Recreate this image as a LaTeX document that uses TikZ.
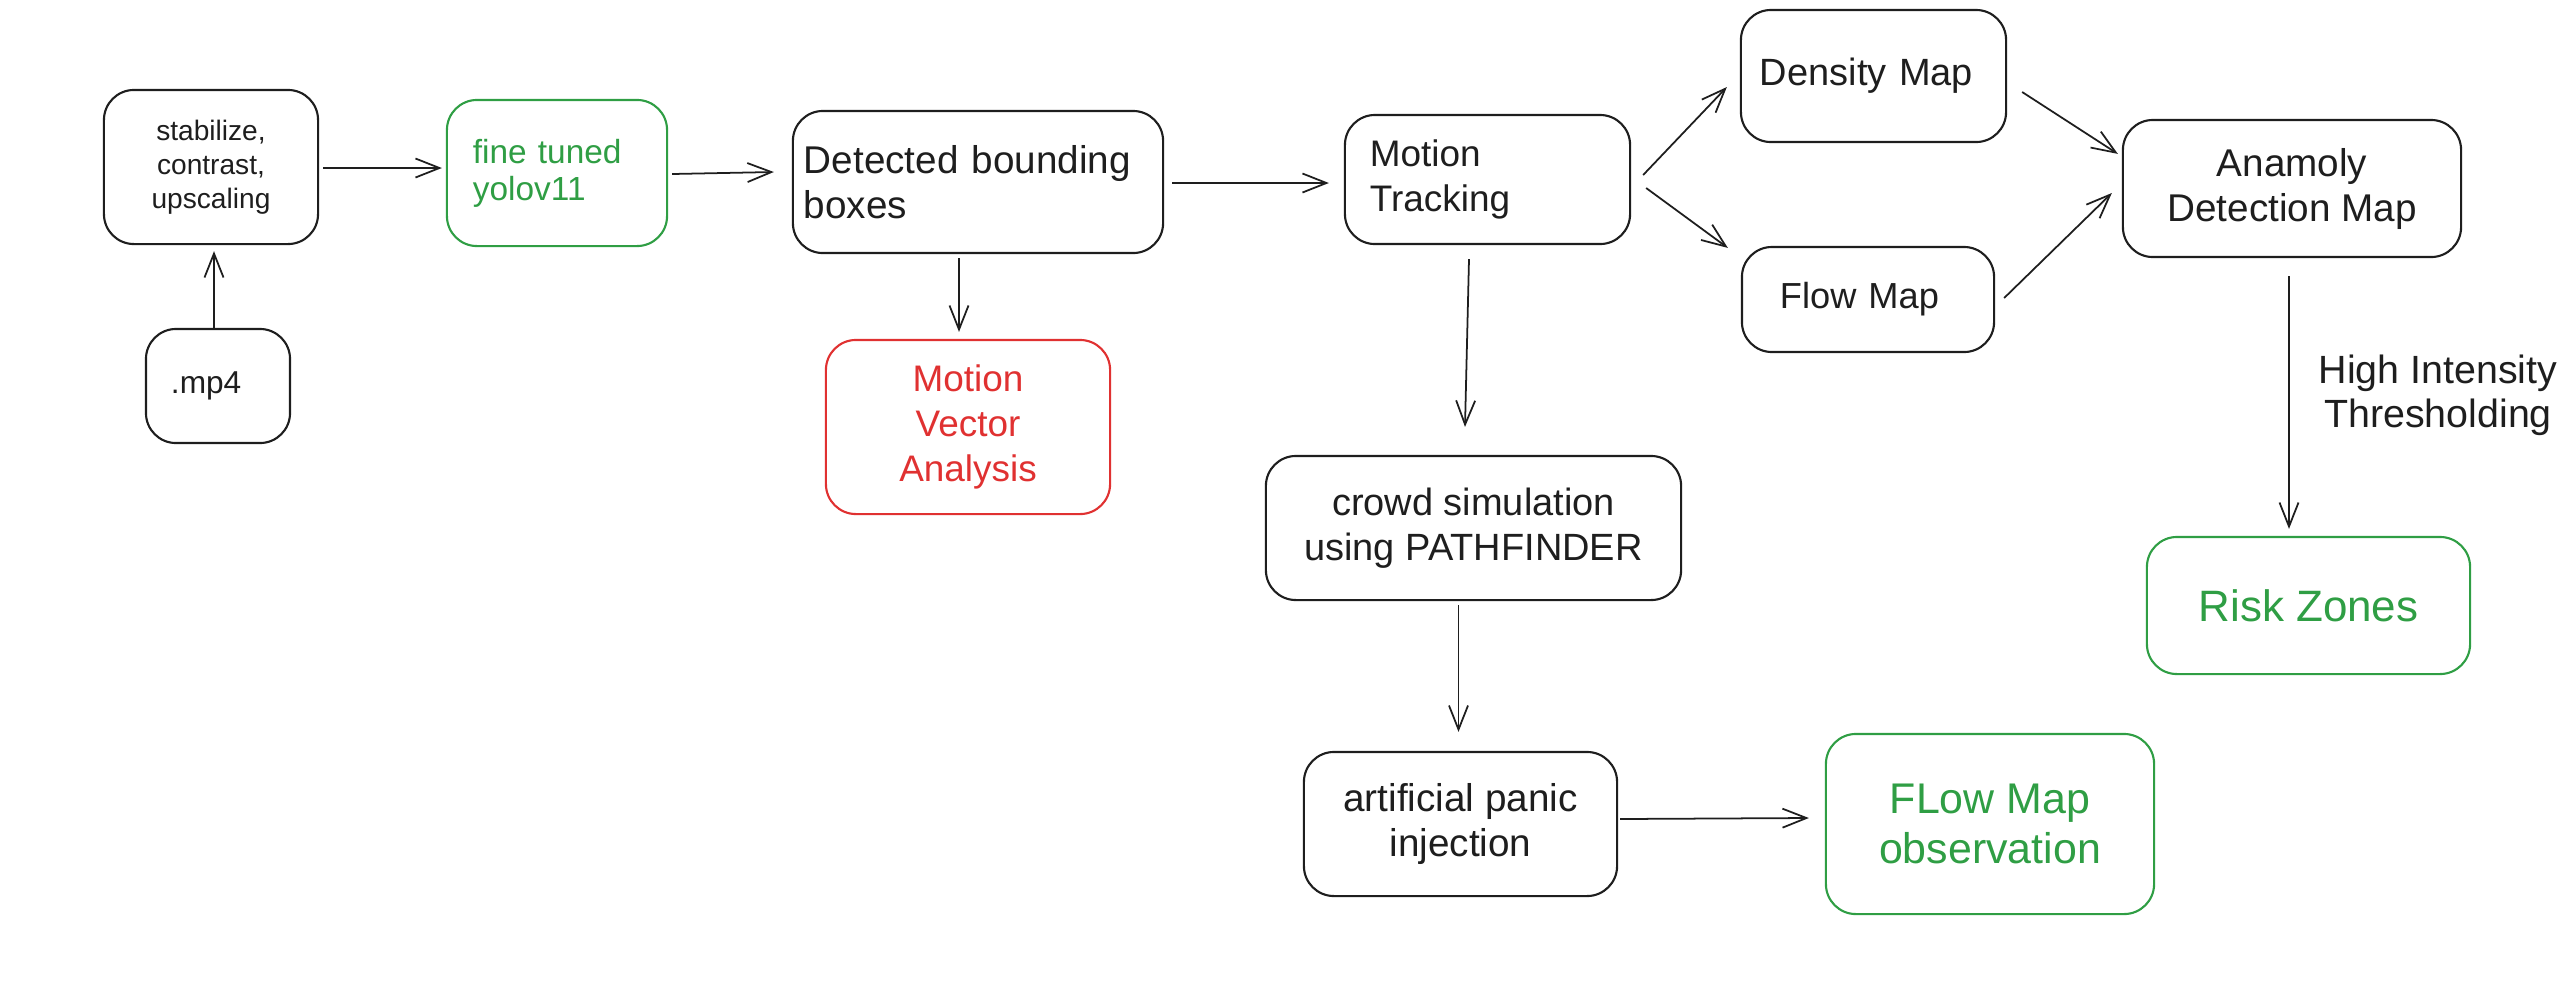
\documentclass[tikz,border=0pt]{standalone}
\usepackage{fontspec}
\setmainfont{Liberation Sans}
\usetikzlibrary{arrows.meta,calc}
\definecolor{ink}{HTML}{1E1E1E}
\definecolor{exgreen}{HTML}{2F9E44}
\definecolor{exred}{HTML}{E03131}
\begin{document}
\begin{tikzpicture}[x=0.01cm,y=-0.01cm,
  box/.style={draw=ink, line width=0.6pt, rounded corners=0.3cm, inner sep=0pt, text=ink, align=center},
  greenbox/.style={box, draw=exgreen, text=exgreen},
  redbox/.style={box, draw=exred, text=exred},
  arr/.style={draw=ink, line width=0.5pt, -{Straight Barb[length=0.24cm,width=0.19cm]}},
  lbl/.style={inner sep=0pt, text=ink, align=center}]
\useasboundingbox (0,0) rectangle (2572,1002);

% boxes
\node[box, minimum width=2.14cm, minimum height=1.54cm, font=\fontsize{8}{9.7}\selectfont] (stab) at (211,167) {stabilize,\\contrast,\\upscaling};
\node[box, minimum height=1.14cm, text width=0.94cm, inner xsep=0.25cm, align=left, font=\fontsize{9}{10.8}\selectfont] (mp4) at (218,386) {.mp4};
\node[greenbox, minimum height=1.46cm, text width=1.68cm, inner xsep=0.26cm, align=left, font=\fontsize{9.5}{10.5}\selectfont] (fine) at (557,173) {fine tuned\\yolov11};
\node[box, minimum height=1.42cm, text width=3.48cm, inner xsep=0.11cm, align=left, font=\fontsize{11}{12.8}\selectfont] (det) at (978,182) {Detected bounding\\boxes};
\node[redbox, minimum width=2.84cm, minimum height=1.74cm, font=\fontsize{10.5}{12.8}\selectfont] (mva) at (968,427) {Motion\\Vector\\Analysis};
\node[box, minimum height=1.29cm, text width=2.35cm, inner xsep=0.25cm, align=left, font=\fontsize{10.5}{12.8}\selectfont] (mot) at (1487.5,179.5) {Motion\\Tracking};
\node[box, minimum height=1.32cm, text width=2.27cm, inner xsep=0.19cm, align=left, font=\fontsize{10.8}{12.8}\selectfont] (dens) at (1873.5,76) {Density Map};
\node[box, minimum height=1.05cm, text width=1.76cm, inner xsep=0.38cm, align=left, font=\fontsize{10.3}{12.4}\selectfont] (flow) at (1868,299.5) {Flow Map};
\node[box, minimum width=3.38cm, minimum height=1.37cm, font=\fontsize{11}{12.8}\selectfont] (anom) at (2292,188.5) {Anamoly\\Detection Map};
\node[greenbox, minimum width=3.23cm, minimum height=1.37cm, font=\fontsize{12.5}{14.5}\selectfont] (risk) at (2308.5,605.5) {Risk Zones};
\node[box, minimum width=4.15cm, minimum height=1.44cm, font=\fontsize{10.8}{12.8}\selectfont] (crowd) at (1473.5,528) {crowd simulation\\using PATHFINDER};
\node[box, minimum width=3.13cm, minimum height=1.44cm, font=\fontsize{11}{12.8}\selectfont] (panic) at (1460.5,824) {artificial panic\\injection};
\node[greenbox, minimum width=3.28cm, minimum height=1.80cm, font=\fontsize{12.2}{14.2}\selectfont] (obs) at (1990,824) {FLow Map\\observation};
\node[lbl, font=\fontsize{11.2}{12.5}\selectfont] (thr) at (2438,395) {High Intensity\\Thresholding};

% connectors
\draw[arr] ($(mp4.north)+(-4,0)$) -- ($(mp4.north |- stab.south)+(-4,6)$);
\draw[arr] ($(stab.east)+(4,1)$) -- ($(stab.east -| fine.west)+(-4,1)$);
\draw[arr] ($(fine.east)+(4,1)$) -- ($(fine.east -| det.west)+(-18,-1)$);
\draw[arr] ($(det.east)+(8,1)$) -- ($(det.east -| mot.west)+(-15,1)$);
\draw[arr] ($(mva.north |- det.south)+(-9,4)$) -- ($(mva.north)+(-9,-7)$);
\draw[arr] ($(mot.east)+(12,-4.5)$) -- ($(dens.west)+(-13,11)$);
\draw[arr] ($(mot.east)+(15,8.5)$) -- ($(flow.north west)+(-13,2)$);
\draw[arr] ($(dens.east)+(15,16)$) -- ($(anom.north west)+(-4,35)$);
\draw[arr] ($(flow.east)+(9,-1.5)$) -- ($(anom.west)+(-10,4.5)$);
\draw[arr] ($(anom.south)+(-3,18)$) -- ($(anom.south |- risk.north)+(-3,-7)$);
\draw[arr] ($(mot.south)+(-18.5,14)$) -- ($(crowd.north)+(-8.5,-28)$);
\draw[arr] ($(panic.north |- crowd.south)+(-2,4)$) -- ($(panic.north)+(-2,-19)$);
\draw[arr] ($(panic.east)+(2,-5)$) -- ($(obs.west)+(-16,-6)$);
\end{tikzpicture}
\end{document}
